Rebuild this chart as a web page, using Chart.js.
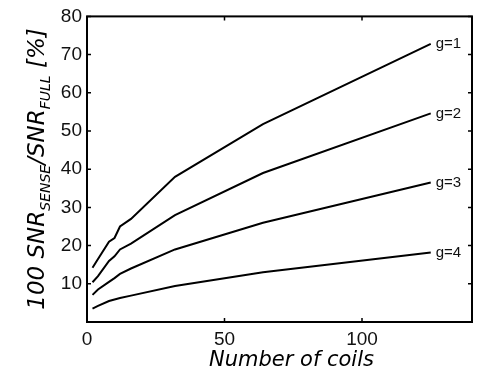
<!DOCTYPE html>
<html>
<head>
<meta charset="utf-8">
<script src="https://cdn.jsdelivr.net/npm/chart.js@4"></script>
<style>
  html, body { margin: 0; padding: 0; background: #fff; }
  #wrap { width: 479px; height: 375px; position: relative; }
</style>
</head>
<body>
<div id="wrap"><canvas id="grafico"></canvas></div>
<script>
'use strict';

// data
const coils = [2, 4, 8, 10, 12, 16, 32, 64, 125];
const g1 = [14.2, 16.5, 21, 22, 25, 27, 38, 51.8, 72.8];
const g2 = [10.4, 12, 16, 17.2, 19, 20.5, 28, 39, 54.6];
const g3 = [7.1, 8.5, 10.5, 11.5, 12.6, 14, 19, 26, 36.5];
const g4 = [3.5, 4.2, 5.5, 5.9, 6.3, 6.9, 9.4, 13, 18.2];
const seriesLabels = ['g=1', 'g=2', 'g=3', 'g=4'];
const xTicks = [0, 50, 100];
const yTicks = [10, 20, 30, 40, 50, 60, 70, 80];

const TICK_FONT = "'Liberation Sans', Arial, sans-serif";
const TITLE_FONT = "'DejaVu Sans', sans-serif";

function pts(ys) {
  return coils.map((c, i) => ({ x: c, y: ys[i] }));
}

// box, inward ticks, curve labels and axis titles
const decor = {
  id: 'decor',
  afterDraw(chart) {
    const ctx = chart.ctx;
    const a = chart.chartArea;
    const xs = chart.scales.x, ys = chart.scales.y;
    ctx.save();
    ctx.strokeStyle = '#000';
    ctx.lineWidth = 2;
    ctx.strokeRect(a.left, a.top, a.right - a.left, a.bottom - a.top);

    ctx.lineWidth = 1.5;
    ctx.beginPath();
    xTicks.forEach(v => {
      const px = xs.getPixelForValue(v);
      ctx.moveTo(px, a.bottom); ctx.lineTo(px, a.bottom - 4);
      ctx.moveTo(px, a.top); ctx.lineTo(px, a.top + 4);
    });
    yTicks.forEach(v => {
      const py = ys.getPixelForValue(v);
      ctx.moveTo(a.left, py); ctx.lineTo(a.left + 4, py);
      ctx.moveTo(a.right, py); ctx.lineTo(a.right - 4, py);
    });
    ctx.stroke();

    // g=.. labels at curve ends
    ctx.fillStyle = '#111';
    ctx.font = '15px ' + TICK_FONT;
    ctx.textBaseline = 'middle';
    chart.data.datasets.forEach((ds, i) => {
      const last = ds.data[ds.data.length - 1];
      const px = xs.getPixelForValue(last.x);
      const py = ys.getPixelForValue(last.y);
      ctx.fillText(seriesLabels[i], px + 5, py);
    });

    // x title
    ctx.fillStyle = '#000';
    ctx.font = 'oblique 21px ' + TITLE_FONT;
    ctx.textAlign = 'center';
    ctx.textBaseline = 'alphabetic';
    ctx.fillText('Number of coils', (a.left + a.right) / 2 + 12, 366);

    // y title with subscripts
    const parts = [
      { t: '100 SNR', sub: false },
      { t: 'SENSE', sub: true },
      { t: '/SNR', sub: false },
      { t: 'FULL', sub: true },
      { t: ' [%]', sub: false }
    ];
    const big = 'oblique 23px ' + TITLE_FONT;
    const small = 'oblique 14px ' + TITLE_FONT;
    let total = 0;
    parts.forEach(p => {
      ctx.font = p.sub ? small : big;
      p.w = ctx.measureText(p.t).width;
      total += p.w;
    });
    ctx.translate(44, 169);
    ctx.rotate(-Math.PI / 2);
    ctx.textAlign = 'left';
    let cx = -total / 2;
    parts.forEach(p => {
      ctx.font = p.sub ? small : big;
      ctx.fillText(p.t, cx, p.sub ? 6 : 0);
      cx += p.w;
    });
    ctx.restore();
  }
};

const lineStyle = {
  borderColor: '#000',
  backgroundColor: 'transparent',
  borderWidth: 2,
  pointRadius: 0,
  tension: 0
};

new Chart(document.getElementById('grafico'), {
  type: 'line',
  data: {
    datasets: [
      Object.assign({ label: 'g=1', data: pts(g1) }, lineStyle),
      Object.assign({ label: 'g=2', data: pts(g2) }, lineStyle),
      Object.assign({ label: 'g=3', data: pts(g3) }, lineStyle),
      Object.assign({ label: 'g=4', data: pts(g4) }, lineStyle)
    ]
  },
  options: {
    responsive: true,
    maintainAspectRatio: false,
    animation: false,
    layout: { padding: { top: 16, right: 7, left: 0, bottom: 0 } },
    plugins: { legend: { display: false }, tooltip: { enabled: false } },
    scales: {
      x: {
        type: 'linear', min: 0, max: 140,
        afterFit: s => { s.height = 53; },
        afterBuildTicks: s => { s.ticks = xTicks.map(v => ({ value: v })); },
        grid: { display: false, drawTicks: false },
        border: { display: false },
        ticks: { color: '#111', padding: 6, maxRotation: 0, font: { family: TICK_FONT, size: 19 } }
      },
      y: {
        min: 0, max: 80,
        afterFit: s => { s.width = 87; },
        afterBuildTicks: s => { s.ticks = yTicks.map(v => ({ value: v })); },
        grid: { display: false, drawTicks: false },
        border: { display: false },
        ticks: { color: '#111', padding: 5, font: { family: TICK_FONT, size: 19 } }
      }
    }
  },
  plugins: [decor]
});
</script>
</body>
</html>
